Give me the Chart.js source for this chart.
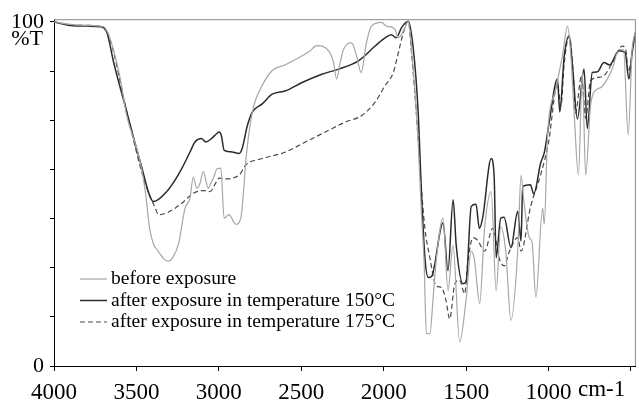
<!DOCTYPE html>
<html>
<head>
  <meta charset="UTF-8">
  <title>%T spectrum</title>
  <script src="https://cdn.jsdelivr.net/npm/chart.js"></script>
  <style>
    html, body { margin: 0; padding: 0; background: #fff; }
    #wrap { width: 639px; height: 400px; }
  </style>
</head>
<body>
  <div id="wrap"><canvas id="spectrum" width="639" height="400"></canvas></div>

  <script>
    // series labels
    const seriesNames = [
      'before exposure',
      'after exposure in temperature 150°C',
      'after exposure in temperature 175°C'
    ];

    // before exposure (wavenumber cm-1 / %T)
    const beforeWn = [4000, 3900, 3800, 3700, 3680, 3658, 3600, 3560, 3480, 3446, 3420, 3396, 3370, 3330, 3306, 3280, 3245, 3205, 3175, 3155, 3135, 3115, 3095, 3064, 3050, 3030, 3010, 2988, 2968, 2938, 2907, 2897, 2867, 2847, 2837, 2797, 2737, 2676, 2600, 2535, 2450, 2406, 2334, 2304, 2286, 2265, 2244, 2195, 2165, 2137, 2105, 2075, 2014, 1984, 1950, 1930, 1911, 1880, 1851, 1833, 1791, 1773, 1755, 1741, 1720, 1700, 1682, 1640, 1610, 1580, 1539, 1501, 1469, 1450, 1418, 1388, 1348, 1318, 1290, 1260, 1228, 1187, 1167, 1150, 1117, 1100, 1077, 1036, 1026, 1006, 956, 916, 885, 866, 845, 819, 795, 775, 745, 704, 680, 614, 573, 545, 517, 493, 475];
    const beforeT = [100, 99.3, 99, 98.6, 97.5, 94.9, 84, 73, 60, 50.7, 40, 35.4, 33.5, 31, 30.5, 31.5, 35.4, 45.9, 48.8, 55, 51.7, 53, 56.5, 51.7, 53, 55, 57.4, 57.5, 43, 44, 41.6, 41.2, 43, 52.7, 59.4, 73.8, 81.5, 85.9, 87.5, 89.1, 91.5, 93.1, 91.6, 88.2, 83.4, 88, 92, 93.9, 90.2, 85.3, 93.9, 98.8, 99.9, 98.8, 98.5, 97.7, 95.4, 97.5, 100.2, 93, 65, 45.9, 30, 9.4, 9.4, 20, 30.5, 43, 21.9, 35, 7, 19, 33.4, 31, 18.2, 40.1, 50.7, 21.9, 40.5, 33.4, 13.3, 33.4, 55.5, 48, 37.3, 36, 20, 45.9, 41.2, 67.1, 80.5, 90.1, 98.8, 91.1, 73.8, 55.5, 85.3, 55.5, 75.7, 80.5, 81, 86.3, 92, 91.8, 67.1, 92, 96.8];

    // after exposure 150°C
    const t150Wn = [4000, 3900, 3800, 3720, 3700, 3678, 3638, 3558, 3477, 3396, 3316, 3235, 3175, 3145, 3105, 3080, 3045, 3014, 2998, 2985, 2968, 2930, 2877, 2860, 2827, 2797, 2737, 2676, 2595, 2495, 2375, 2274, 2153, 2052, 1992, 1954, 1924, 1890, 1851, 1820, 1791, 1773, 1750, 1730, 1710, 1640, 1610, 1579, 1560, 1519, 1500, 1469, 1440, 1420, 1400, 1348, 1330, 1318, 1290, 1270, 1228, 1187, 1167, 1157, 1110, 1090, 1048, 1026, 996, 946, 932, 905, 875, 855, 825, 785, 765, 735, 704, 664, 630, 573, 535, 513, 493, 475];
    const t150T = [100, 99, 98.8, 98.6, 98.3, 96.8, 88.2, 73.8, 59.4, 47.8, 50.7, 56.5, 62.2, 65.1, 66.1, 65.1, 66.1, 67.5, 68, 67, 62.7, 62.3, 61.8, 63, 69.9, 73.8, 76.2, 79, 80, 82.4, 84.8, 86.3, 88.7, 93, 95.4, 96.3, 95.4, 98.5, 100.2, 92, 73.8, 52.7, 31.5, 25.7, 26, 41.6, 27.7, 48.3, 35, 23.9, 24.5, 46.4, 47, 40, 43, 60.3, 55, 31.5, 43, 43.2, 34.4, 45, 36.3, 52.2, 52.7, 50, 59, 62, 70.9, 83.4, 73.8, 90.1, 95.9, 87.2, 71.8, 86.3, 69, 85.3, 85.5, 88.2, 87.5, 91.6, 91.1, 83.4, 91, 96.8];

    // after exposure 175°C
    const t175Wn = [4000, 3900, 3800, 3700, 3660, 3558, 3457, 3386, 3366, 3316, 3235, 3155, 3095, 3054, 3014, 2998, 2970, 2877, 2837, 2737, 2595, 2475, 2334, 2233, 2133, 2052, 1992, 1942, 1911, 1880, 1851, 1833, 1791, 1773, 1750, 1720, 1682, 1650, 1622, 1600, 1569, 1540, 1509, 1490, 1459, 1430, 1388, 1338, 1298, 1268, 1240, 1187, 1167, 1109, 1048, 1000, 946, 925, 905, 875, 850, 837, 800, 775, 745, 674, 614, 553, 530, 517, 493, 475];
    const t175T = [100, 99.2, 99, 98.5, 94.9, 73.8, 54.6, 45.9, 44, 44.5, 46.9, 50.2, 51, 50.7, 53.6, 54.6, 54.4, 55.5, 58.4, 60.3, 62.2, 65.1, 68.5, 70.9, 72.8, 76.7, 81.5, 85.3, 91.1, 97, 100.2, 92, 66.1, 52.7, 40, 31.5, 23.3, 22.8, 19, 13.7, 23.8, 25, 21, 30, 37.3, 36.5, 33.4, 40.1, 31.1, 29.1, 33, 37.3, 33.4, 46.3, 55.6, 65, 82, 75.5, 88, 95.9, 85, 73.5, 84.5, 72, 83, 84.1, 88, 93, 91.5, 85.5, 91, 96.8];

    // axis ticks
    const xTickValues = [4000, 3500, 3000, 2500, 2000, 1500, 1000, 500];
    const yTickCount = 7;

    const serif = '"Liberation Serif", "DejaVu Serif", serif';

    function toPoints(wn, t) {
      return wn.map((w, i) => ({ x: w, y: t[i] }));
    }

    // frame (top/right), %T, cm-1 and the legend inside the plot
    const extrasPlugin = {
      id: 'extras',
      afterDraw(chart) {
        const ctx = chart.ctx;
        const a = chart.chartArea;
        ctx.save();
        ctx.strokeStyle = '#8a8a8a';
        ctx.lineWidth = 1;
        ctx.beginPath();
        ctx.moveTo(a.left, a.top + 0.5);
        ctx.lineTo(a.right - 0.5, a.top + 0.5);
        ctx.lineTo(a.right - 0.5, a.bottom);
        ctx.stroke();

        ctx.fillStyle = '#000';
        ctx.font = '22px ' + serif;
        ctx.textBaseline = 'middle';
        ctx.textAlign = 'right';
        ctx.fillText('%T', 43, 39);
        ctx.textAlign = 'left';
        ctx.font = '23px ' + serif;
        ctx.fillText('cm-1', 578, 390);

        // legend
        ctx.font = '19.5px ' + serif;
        chart.data.datasets.forEach((ds, i) => {
          const y = 279 + i * 21.5;
          ctx.strokeStyle = ds.borderColor;
          ctx.lineWidth = ds.borderWidth;
          ctx.setLineDash(ds.borderDash || []);
          ctx.beginPath();
          ctx.moveTo(80, y);
          ctx.lineTo(107, y);
          ctx.stroke();
          ctx.setLineDash([]);
          ctx.fillStyle = '#000';
          ctx.fillText(ds.label, 111, y);
        });
        ctx.restore();
      }
    };

    new Chart(document.getElementById('spectrum').getContext('2d'), {
      type: 'line',
      data: {
        datasets: [
          {
            label: seriesNames[0],
            data: toPoints(beforeWn, beforeT),
            borderColor: '#a6a6a6',
            borderWidth: 1.2
          },
          {
            label: seriesNames[1],
            data: toPoints(t150Wn, t150T),
            borderColor: '#2b2b2b',
            borderWidth: 1.5
          },
          {
            label: seriesNames[2],
            data: toPoints(t175Wn, t175T),
            borderColor: '#4a4a4a',
            borderWidth: 1.2,
            borderDash: [5, 3]
          }
        ]
      },
      options: {
        responsive: false,
        animation: false,
        elements: {
          point: { radius: 0 },
          line: { cubicInterpolationMode: 'monotone', fill: false }
        },
        layout: { padding: { top: 16, right: 1, left: 0, bottom: 0 } },
        plugins: {
          legend: { display: false },
          tooltip: { enabled: false }
        },
        scales: {
          x: {
            type: 'linear',
            reverse: true,
            min: 470,
            max: 4000,
            afterBuildTicks(scale) {
              scale.ticks = xTickValues.map(v => ({ value: v }));
            },
            afterFit(scale) { scale.height = 34; },
            ticks: {
              autoSkip: false,
              maxRotation: 0,
              padding: 8,
              color: '#000',
              font: { family: serif, size: 23 },
              callback: v => (v === 500 ? '' : String(v))
            },
            grid: { drawOnChartArea: false, drawTicks: true, tickLength: 5, color: '#000' },
            border: { display: true, color: '#000', width: 1 }
          },
          y: {
            min: 0,
            max: 100.8,
            afterBuildTicks(scale) {
              const t = [];
              for (let i = 0; i <= yTickCount; i++) t.push({ value: i * 100 / yTickCount });
              scale.ticks = t;
            },
            afterFit(scale) { scale.width = 54; },
            ticks: {
              autoSkip: false,
              padding: 6,
              color: '#000',
              font: { family: serif, size: 22 },
              callback: v => {
                const r = Math.round(v);
                return (Math.abs(v - r) < 1e-6 && (r === 0 || r === 100)) ? String(r) : '';
              }
            },
            grid: { drawOnChartArea: false, drawTicks: true, tickLength: 4, color: '#000' },
            border: { display: true, color: '#000', width: 1 }
          }
        }
      },
      plugins: [extrasPlugin]
    });
  </script>
</body>
</html>
